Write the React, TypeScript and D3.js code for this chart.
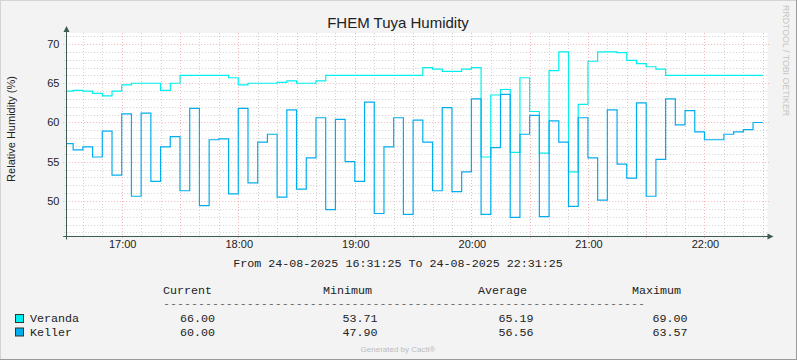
import React from 'react';
import * as d3 from 'd3';

// 5-minute RRD samples, first interval 16:30-16:35
const firstSample = '2025-08-24 16:30:00';
const stepMinutes = 5;
const rangeStart = '2025-08-24 16:31:25';
const rangeEnd = '2025-08-24 22:31:25';

const veranda = [
  64.0, 64.1, 64.0, 63.7, 63.4, 64.0, 64.8, 65.0, 65.0, 65.0,
  64.1, 65.0, 66.0, 66.0, 66.0, 66.0, 66.0, 65.7, 64.8, 65.0,
  65.0, 65.0, 65.1, 65.3, 65.0, 65.0, 65.3, 66.0, 66.0, 66.0,
  66.0, 66.0, 66.0, 66.0, 66.0, 66.0, 66.0, 67.0, 66.8, 66.5,
  66.5, 66.8, 67.0, 55.6, 63.5, 64.2, 56.2, 65.7, 61.4, 56.1,
  66.6, 69.0, 53.71, 62.3, 67.8, 69.0, 69.0, 68.9, 67.9, 67.5,
  67.1, 66.8, 66.0, 66.0, 66.0, 66.0, 66.0, 66.0, 66.0, 66.0,
  66.0, 66.0
];

const keller = [
  57.3, 56.5, 56.9, 55.6, 58.9, 53.3, 61.1, 50.6, 61.2, 52.5,
  56.9, 58.2, 51.3, 61.8, 49.4, 57.8, 57.9, 50.9, 61.8, 52.3,
  57.5, 58.5, 50.5, 61.6, 51.5, 55.5, 60.6, 48.9, 60.4, 55.0,
  52.5, 62.6, 48.4, 56.9, 60.6, 48.3, 60.3, 57.5, 51.3, 61.9,
  51.2, 53.7, 63.0, 48.3, 56.8, 63.57, 47.9, 58.5, 60.9, 48.0,
  60.2, 57.5, 49.3, 60.6, 55.5, 50.1, 61.6, 54.7, 52.9, 62.5,
  50.6, 55.3, 63.0, 59.7, 61.5, 58.8, 57.8, 57.8, 58.5, 58.8,
  59.1, 60.0
];

const yMajorTicks = [50, 55, 60, 65, 70];
const legendHeaders = ['Current', 'Minimum', 'Average', 'Maximum'];
const verandaStats = ['66.00', '53.71', '65.19', '69.00'];
const kellerStats = ['60.00', '47.90', '56.56', '63.57'];

const W = 797;
const H = 360;
const left = 66.2;
const right = 765.5;
const top = 33;
const bottom = 235.5;

const verandaColor = '#00f0f0';
const kellerColor = '#00aeef';
const axisColor = '#3d5c52';
const minorGrid = '#d2d2d2';
const majorGrid = '#f2b4b4';
const sans = '"Liberation Sans", Arial, sans-serif';
const mono = '"Liberation Mono", "Courier New", monospace';

const parse = d3.timeParse('%Y-%m-%d %H:%M:%S');

const App: React.FC = () => {
  const t0 = parse(firstSample)!;
  const x = d3.scaleTime()
    .domain([parse(rangeStart)!, parse(rangeEnd)!])
    .range([left, right]);
  const y = d3.scaleLinear().domain([45.6, 71.4]).range([bottom, top]);

  const toPoints = (vals: number[]) => {
    const pts = vals.map((v, i) => [d3.timeMinute.offset(t0, i * stepMinutes), v] as [Date, number]);
    pts.push([d3.timeMinute.offset(t0, vals.length * stepMinutes), vals[vals.length - 1]]);
    return pts;
  };

  const line = d3.line<[Date, number]>()
    .x(d => x(d[0]))
    .y(d => y(d[1]))
    .curve(d3.curveStepAfter);

  const minorX = x.ticks(d3.timeMinute.every(10)!);
  const majorX = x.ticks(d3.timeMinute.every(30)!);
  const labelX = x.ticks(d3.timeHour.every(1)!);
  const fmt = d3.timeFormat('%H:%M');
  const minorY = d3.range(46, 72, 1);

  const crisp = (v: number) => Math.round(v) + 0.5;
  const legendX = [163, 323, 478, 632];
  const valueX = [180, 342.5, 498.5, 652.5];

  return (
    <div style={{ position: 'absolute', left: 0, top: 0 }}>
      <svg width={W} height={H} style={{ display: 'block' }}>
        <defs>
          <clipPath id="canvas">
            <rect x={left} y={top} width={right - left} height={bottom - top} />
          </clipPath>
        </defs>
        <rect x={0} y={0} width={W} height={H} fill="#f3f3f3" />
        <line x1={0.5} y1={0} x2={0.5} y2={H} stroke="#d4d4d4" />
        <line x1={0} y1={0.5} x2={W} y2={0.5} stroke="#d4d4d4" />
        <line x1={W - 0.5} y1={0} x2={W - 0.5} y2={H} stroke="#9a9a9a" />
        <line x1={0} y1={H - 0.5} x2={W} y2={H - 0.5} stroke="#9a9a9a" />

        <rect x={left} y={top} width={right - left + 2} height={bottom - top} fill="#ffffff" />

        {/* grid */}
        {minorY.filter(v => v % 5 !== 0).map(v => (
          <line key={'gy' + v} x1={left - 2} x2={right + 4} y1={crisp(y(v))} y2={crisp(y(v))}
            stroke={minorGrid} strokeDasharray="1,2" />
        ))}
        {minorX.filter(d => d.getMinutes() % 30 !== 0).map(d => (
          <line key={'gx' + d.getTime()} y1={top} y2={bottom + 2} x1={crisp(x(d))} x2={crisp(x(d))}
            stroke={minorGrid} strokeDasharray="1,2" />
        ))}
        {yMajorTicks.map(v => (
          <line key={'my' + v} x1={left - 3} x2={right + 4} y1={crisp(y(v))} y2={crisp(y(v))}
            stroke={majorGrid} strokeDasharray="1,2" />
        ))}
        {majorX.map(d => (
          <line key={'mx' + d.getTime()} y1={top} y2={bottom + 3} x1={crisp(x(d))} x2={crisp(x(d))}
            stroke={majorGrid} strokeDasharray="1,2" />
        ))}

        {/* data */}
        <g clipPath="url(#canvas)" fill="none" strokeWidth={1.2}>
          <path d={line(toPoints(veranda))!} stroke={verandaColor} />
          <path d={line(toPoints(keller))!} stroke={kellerColor} />
        </g>

        {/* axes */}
        <line x1={left - 3} x2={right + 3} y1={crisp(bottom)} y2={crisp(bottom)} stroke={axisColor} />
        <line x1={crisp(left)} x2={crisp(left)} y1={top - 2} y2={bottom + 4} stroke={axisColor} />
        <path d={`M${right + 2},${crisp(bottom) - 3} L${right + 8},${crisp(bottom)} L${right + 2},${crisp(bottom) + 3} Z`} fill={axisColor} />
        <path d={`M${crisp(left) - 3},${top - 1} L${crisp(left)},${top - 7} L${crisp(left) + 3},${top - 1} Z`} fill={axisColor} />

        {/* tick labels */}
        {yMajorTicks.map(v => (
          <text key={'ly' + v} x={59.5} y={y(v) + 4} textAnchor="end" fontFamily={sans} fontSize={11} fill="#222">{v}</text>
        ))}
        {labelX.map(d => (
          <text key={'lx' + d.getTime()} x={x(d) + 1} y={248} textAnchor="middle" fontFamily={sans} fontSize={11} fill="#222">{fmt(d)}</text>
        ))}

        <text x={398} y={28} textAnchor="middle" fontFamily={sans} fontSize={15} fill="#222">FHEM Tuya Humidity</text>
        <text transform="translate(14.5,129) rotate(-90)" textAnchor="middle" fontFamily={sans} fontSize={11} fill="#222">Relative Humidity (%)</text>
        <text transform="translate(783,5) rotate(90)" fontFamily={sans} fontSize={8.8} fill="#c4c4c4">RRDTOOL / TOBI OETIKER</text>

        <text x={398} y={267} textAnchor="middle" fontFamily={mono} fontSize={11.7} fill="#222">From 24-08-2025 16:31:25 To 24-08-2025 22:31:25</text>

        {legendHeaders.map((h, i) => (
          <text key={h} x={legendX[i]} y={294} fontFamily={mono} fontSize={11.7} fill="#222">{h}</text>
        ))}
        <text x={163} y={305.5} fontFamily={mono} fontSize={8} fill="#222"
          textLength={482} lengthAdjust="spacingAndGlyphs">{'-'.repeat(69)}</text>

        {[{ name: 'Veranda', color: verandaColor, stats: verandaStats, yy: 322 },
          { name: 'Keller', color: kellerColor, stats: kellerStats, yy: 335.5 }].map(r => (
          <g key={r.name}>
            <rect x={15.5} y={r.yy - 7.5} width={8} height={8} fill={r.color} stroke="#333" />
            <text x={30} y={r.yy} fontFamily={mono} fontSize={11.7} fill="#222">{r.name}</text>
            {r.stats.map((s, i) => (
              <text key={i} x={valueX[i]} y={r.yy} fontFamily={mono} fontSize={11.7} fill="#222">{s}</text>
            ))}
          </g>
        ))}

        <text x={398} y={352} textAnchor="middle" fontFamily={sans} fontSize={8} fill="#bdbdbd">Generated by Cacti®</text>
      </svg>
    </div>
  );
};

export default App;
